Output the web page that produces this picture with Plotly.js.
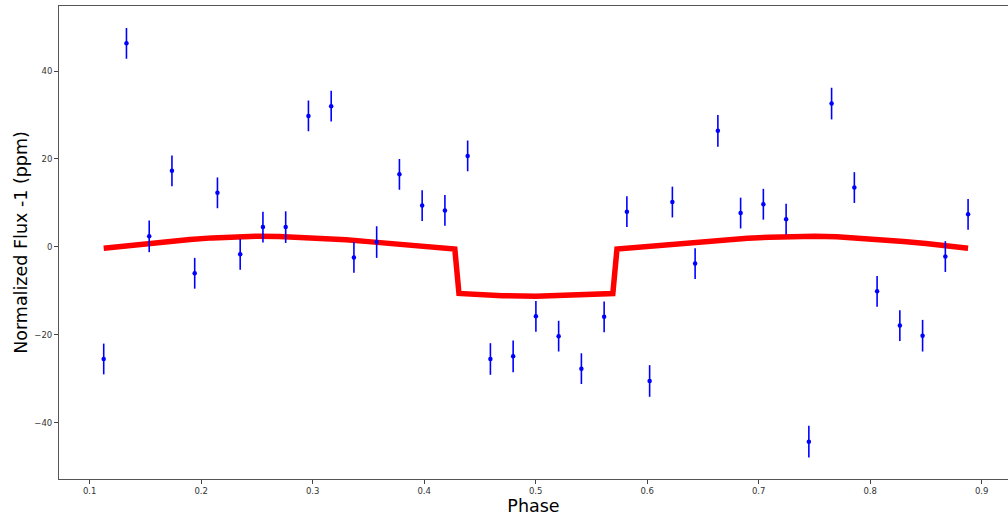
<!DOCTYPE html>
<html>
<head>
<meta charset="utf-8">
<script src="https://cdn.plot.ly/plotly-3.0.1.min.js"></script>
<style>html,body{margin:0;padding:0;background:#fff;}#chart{width:1008px;height:516px;}</style>
</head>
<body>
<div id="chart"></div>
<script>
// Binned observations
const phase = [0.1126, 0.1330, 0.1534, 0.1738, 0.1942, 0.2146, 0.2350, 0.2554, 0.2758, 0.2962,
               0.3166, 0.3370, 0.3574, 0.3778, 0.3982, 0.4186, 0.4390, 0.4594, 0.4798, 0.5002,
               0.5206, 0.5410, 0.5614, 0.5818, 0.6022, 0.6226, 0.6430, 0.6634, 0.6838, 0.7042,
               0.7246, 0.7450, 0.7654, 0.7858, 0.8062, 0.8266, 0.8470, 0.8674, 0.8878];
const flux = [-25.5, 46.3, 2.4, 17.3, -6.0, 12.3, -1.7, 4.5, 4.5, 29.8,
              32.0, -2.4, 1.1, 16.5, 9.4, 8.3, 20.7, -25.5, -24.9, -15.8,
              -20.3, -27.7, -15.9, 8.0, -30.5, 10.2, -3.8, 26.4, 7.7, 9.7,
              6.3, -44.3, 32.6, 13.5, -10.1, -17.9, -20.2, -2.2, 7.4];
const fluxErr = [3.5, 3.5, 3.6, 3.5, 3.5, 3.5, 3.5, 3.5, 3.6, 3.5,
                 3.5, 3.5, 3.6, 3.5, 3.5, 3.5, 3.5, 3.6, 3.6, 3.5,
                 3.5, 3.5, 3.5, 3.5, 3.6, 3.5, 3.5, 3.6, 3.5, 3.5,
                 3.5, 3.6, 3.6, 3.5, 3.5, 3.5, 3.6, 3.5, 3.5];

// Model curve
const modelPhase = [0.1126, 0.13, 0.15, 0.17, 0.19, 0.21, 0.23, 0.25, 0.27, 0.29,
                    0.31, 0.33, 0.35, 0.37, 0.39, 0.41, 0.4275, 0.4312, 0.45, 0.47,
                    0.50, 0.53, 0.55, 0.5692, 0.5729, 0.59, 0.61, 0.63, 0.65, 0.67,
                    0.69, 0.71, 0.73, 0.75, 0.77, 0.79, 0.81, 0.83, 0.85, 0.87, 0.8878];
const modelFlux = [-0.3, 0.2, 0.75, 1.25, 1.7, 2.05, 2.3, 2.42, 2.38, 2.2,
                   1.95, 1.6, 1.2, 0.78, 0.33, -0.1, -0.5, -10.6, -10.9, -11.1,
                   -11.25, -11.1, -10.9, -10.6, -0.5, -0.1, 0.33, 0.78, 1.2, 1.6,
                   1.95, 2.2, 2.38, 2.42, 2.3, 2.05, 1.7, 1.25, 0.75, 0.2, -0.3];

const xTicks = [0.1, 0.2, 0.3, 0.4, 0.5, 0.6, 0.7, 0.8, 0.9];
const xTickText = ['0.1', '0.2', '0.3', '0.4', '0.5', '0.6', '0.7', '0.8', '0.9'];
const yTicks = [-40, -20, 0, 20, 40];

const font = 'DejaVu Sans, Liberation Sans, sans-serif';

const traces = [
  {
    x: modelPhase, y: modelFlux, type: 'scatter', mode: 'lines',
    line: {color: '#ff0000', width: 5.5, shape: 'linear'},
    hoverinfo: 'skip', showlegend: false
  },
  {
    x: phase, y: flux, type: 'scatter', mode: 'markers',
    marker: {color: '#0000ff', size: 4.5},
    error_y: {type: 'data', array: fluxErr, visible: true, color: '#0000ff', thickness: 1.6, width: 0},
    showlegend: false
  }
];

const layout = {
  width: 1008, height: 516,
  margin: {l: 59, r: 0, t: 6, b: 37, pad: 0},
  paper_bgcolor: '#ffffff', plot_bgcolor: '#ffffff',
  font: {family: font, color: '#333'},
  showlegend: false,
  xaxis: {
    range: [0.0725, 0.9236], tickvals: xTicks, ticktext: xTickText,
    ticks: 'outside', ticklen: 4, tickwidth: 1, tickcolor: '#444',
    showline: true, mirror: true, linecolor: '#555', linewidth: 1,
    showgrid: false, zeroline: false, automargin: false,
    tickfont: {family: font, size: 8.5, color: '#333'},
    title: {text: 'Phase', font: {family: font, size: 17.5, color: '#000'}, standoff: 3}
  },
  yaxis: {
    range: [-52.8, 54.8], tickvals: yTicks,
    ticks: 'outside', ticklen: 4, tickwidth: 1, tickcolor: '#444',
    showline: true, mirror: false, linecolor: '#555', linewidth: 1,
    showgrid: false, zeroline: false, automargin: false,
    tickfont: {family: font, size: 8.5, color: '#333'},
    title: {text: 'Normalized Flux -1 (ppm)', font: {family: font, size: 17.5, color: '#000'}, standoff: 2}
  }
};

Plotly.newPlot('chart', traces, layout, {displayModeBar: false, staticPlot: true});
</script>
</body>
</html>
